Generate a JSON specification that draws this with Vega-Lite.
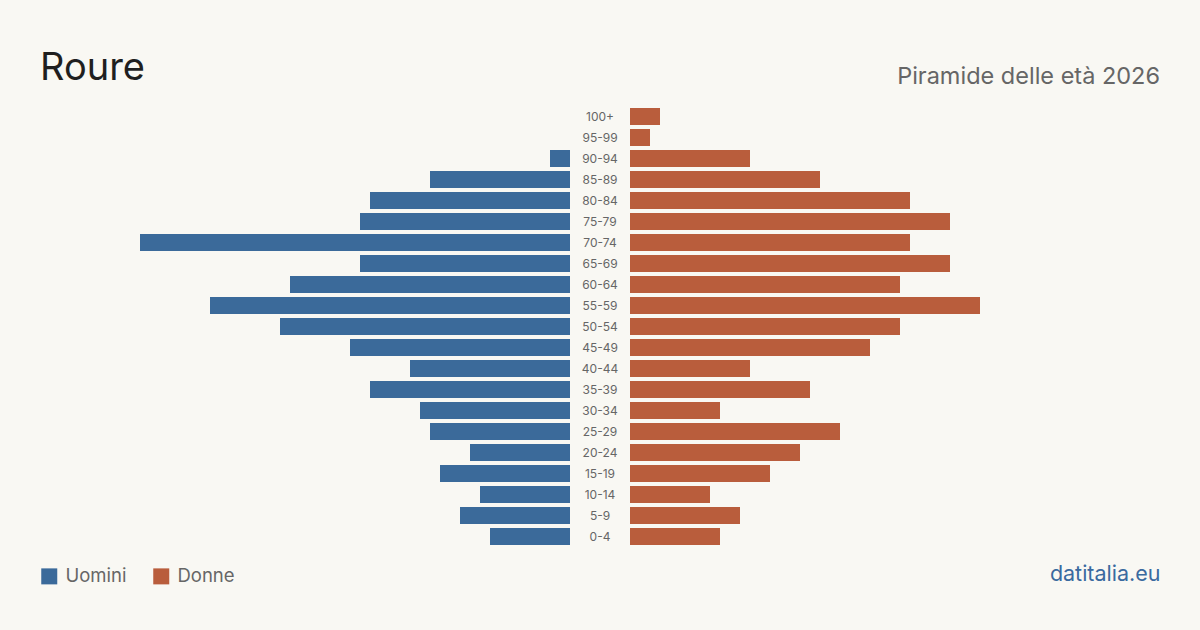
{
  "$schema": "https://vega.github.io/schema/vega-lite/v6.json",
  "background": "#f9f8f3",
  "padding": {"left": 40, "right": 40, "top": 49, "bottom": 44},
  "spacing": 0,
  "config": {
    "view": {"stroke": null},
    "font": "Inter",
    "concat": {"spacing": 0}
  },
  "data": {
    "values": [
      {"eta": "100+", "sesso": "Uomini", "n": 0},
      {"eta": "95-99", "sesso": "Uomini", "n": 0},
      {"eta": "90-94", "sesso": "Uomini", "n": 2},
      {"eta": "85-89", "sesso": "Uomini", "n": 14},
      {"eta": "80-84", "sesso": "Uomini", "n": 20},
      {"eta": "75-79", "sesso": "Uomini", "n": 21},
      {"eta": "70-74", "sesso": "Uomini", "n": 43},
      {"eta": "65-69", "sesso": "Uomini", "n": 21},
      {"eta": "60-64", "sesso": "Uomini", "n": 28},
      {"eta": "55-59", "sesso": "Uomini", "n": 36},
      {"eta": "50-54", "sesso": "Uomini", "n": 29},
      {"eta": "45-49", "sesso": "Uomini", "n": 22},
      {"eta": "40-44", "sesso": "Uomini", "n": 16},
      {"eta": "35-39", "sesso": "Uomini", "n": 20},
      {"eta": "30-34", "sesso": "Uomini", "n": 15},
      {"eta": "25-29", "sesso": "Uomini", "n": 14},
      {"eta": "20-24", "sesso": "Uomini", "n": 10},
      {"eta": "15-19", "sesso": "Uomini", "n": 13},
      {"eta": "10-14", "sesso": "Uomini", "n": 9},
      {"eta": "5-9", "sesso": "Uomini", "n": 11},
      {"eta": "0-4", "sesso": "Uomini", "n": 8},
      {"eta": "100+", "sesso": "Donne", "n": 3},
      {"eta": "95-99", "sesso": "Donne", "n": 2},
      {"eta": "90-94", "sesso": "Donne", "n": 12},
      {"eta": "85-89", "sesso": "Donne", "n": 19},
      {"eta": "80-84", "sesso": "Donne", "n": 28},
      {"eta": "75-79", "sesso": "Donne", "n": 32},
      {"eta": "70-74", "sesso": "Donne", "n": 28},
      {"eta": "65-69", "sesso": "Donne", "n": 32},
      {"eta": "60-64", "sesso": "Donne", "n": 27},
      {"eta": "55-59", "sesso": "Donne", "n": 35},
      {"eta": "50-54", "sesso": "Donne", "n": 27},
      {"eta": "45-49", "sesso": "Donne", "n": 24},
      {"eta": "40-44", "sesso": "Donne", "n": 12},
      {"eta": "35-39", "sesso": "Donne", "n": 18},
      {"eta": "30-34", "sesso": "Donne", "n": 9},
      {"eta": "25-29", "sesso": "Donne", "n": 21},
      {"eta": "20-24", "sesso": "Donne", "n": 17},
      {"eta": "15-19", "sesso": "Donne", "n": 14},
      {"eta": "10-14", "sesso": "Donne", "n": 8},
      {"eta": "5-9", "sesso": "Donne", "n": 11},
      {"eta": "0-4", "sesso": "Donne", "n": 9}
    ]
  },
  "resolve": {"legend": {"color": "independent"}, "scale": {"color": "independent"}},
  "hconcat": [
    {
      "width": 530,
      "height": 441,
      "title": {"text": "Roure", "anchor": "start", "fontSize": 38, "fontWeight": "normal", "color": "#1f1f1f", "baseline": "alphabetic", "offset": -11.5},
      "transform": [{"filter": "datum.sesso === 'Uomini'"}],
      "mark": {"type": "bar"},
      "encoding": {
        "y": {"field": "eta", "type": "nominal", "sort": null, "axis": null, "scale": {"paddingInner": 0.19, "paddingOuter": 0.095}},
        "x": {"field": "n", "type": "quantitative", "scale": {"domain": [0, 53], "reverse": true, "nice": false}, "axis": null},
        "color": {
          "field": "sesso",
          "type": "nominal",
          "scale": {"domain": ["Uomini", "Donne"], "range": ["#3b6a9a", "#b95d3c"]},
          "legend": {"orient": "bottom", "direction": "horizontal", "title": null, "symbolType": "square", "symbolSize": 256, "symbolStrokeWidth": 0, "symbolOpacity": 1, "labelFontSize": 18.5, "labelColor": "#666666", "labelFont": "Inter", "offset": 20, "columnPadding": 25, "labelOffset": 7}
        }
      }
    },
    {
      "width": 60,
      "height": 441,
      "transform": [{"filter": "datum.sesso === 'Uomini'"}],
      "mark": {"type": "text", "fontSize": 12, "color": "#666666", "baseline": "middle", "align": "center"},
      "encoding": {
        "y": {"field": "eta", "type": "nominal", "sort": null, "axis": null, "scale": {"paddingInner": 0.19, "paddingOuter": 0.095}},
        "text": {"field": "eta"}
      }
    },
    {
      "width": 530,
      "height": 441,
      "title": {"text": "Piramide delle età 2026", "anchor": "end", "fontSize": 23.5, "fontWeight": "normal", "color": "#666666", "baseline": "alphabetic", "offset": -1},
      "transform": [{"filter": "datum.sesso === 'Donne'"}],
      "mark": {"type": "bar", "color": "#b95d3c"},
      "encoding": {
        "y": {"field": "eta", "type": "nominal", "sort": null, "axis": null, "scale": {"paddingInner": 0.19, "paddingOuter": 0.095}},
        "x": {"field": "n", "type": "quantitative", "scale": {"domain": [0, 53], "nice": false}, "axis": {"title": "datitalia.eu", "labels": false, "ticks": false, "domain": false, "grid": false, "titleAnchor": "end", "titleColor": "#3a6a9f", "titleFontSize": 21.5, "titleFontWeight": "normal", "titleFont": "Inter", "titlePadding": 16}}
      }
    }
  ]
}
